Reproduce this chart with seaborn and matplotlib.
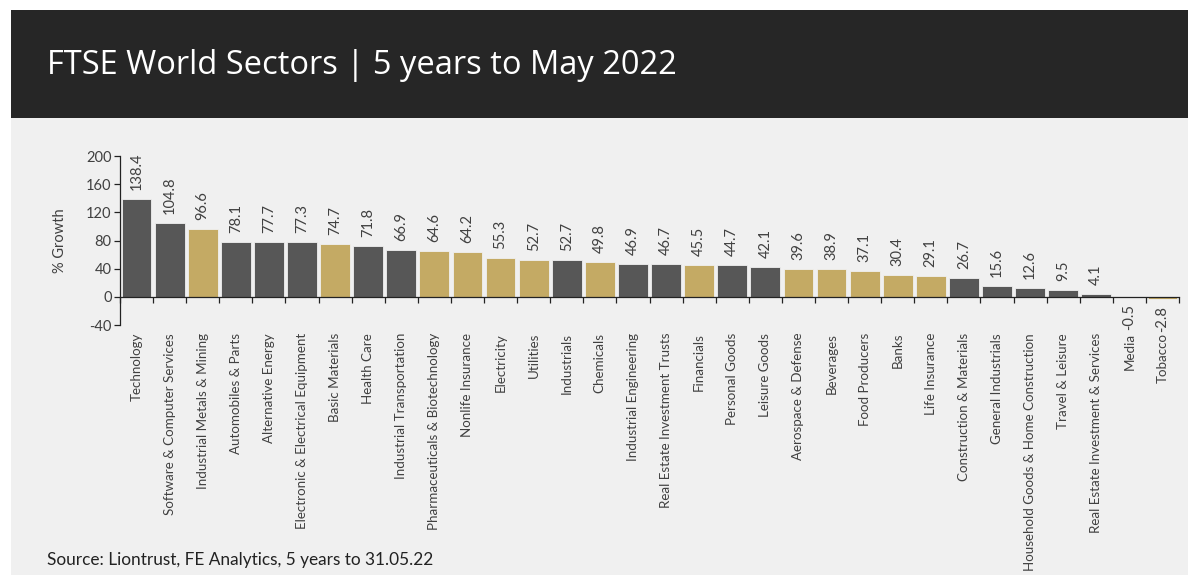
import matplotlib
matplotlib.use("Agg")
import matplotlib.pyplot as plt
from matplotlib.patches import Rectangle
import seaborn as sns
import pandas as pd

sectors = [
    "Technology", "Software & Computer Services", "Industrial Metals & Mining",
    "Automobiles & Parts", "Alternative Energy", "Electronic & Electrical Equipment",
    "Basic Materials", "Health Care", "Industrial Transportation",
    "Pharmaceuticals & Biotechnology", "Nonlife Insurance", "Electricity",
    "Utilities", "Industrials", "Chemicals", "Industrial Engineering",
    "Real Estate Investment Trusts", "Financials", "Personal Goods",
    "Leisure Goods", "Aerospace & Defense", "Beverages", "Food Producers",
    "Banks", "Life Insurance", "Construction & Materials", "General Industrials",
    "Household Goods & Home Construction", "Travel & Leisure",
    "Real Estate Investment & Services", "Media", "Tobacco",
]
growth = [138.4, 104.8, 96.6, 78.1, 77.7, 77.3, 74.7, 71.8, 66.9, 64.6, 64.2,
          55.3, 52.7, 52.7, 49.8, 46.9, 46.7, 45.5, 44.7, 42.1, 39.6, 38.9,
          37.1, 30.4, 29.1, 26.7, 15.6, 12.6, 9.5, 4.1, -0.5, -2.8]
group = ["dark", "dark", "gold", "dark", "dark", "dark", "gold", "dark", "dark",
         "gold", "gold", "gold", "gold", "dark", "gold", "dark", "dark", "gold",
         "dark", "dark", "gold", "gold", "gold", "gold", "gold", "dark", "dark",
         "dark", "dark", "dark", "dark", "gold"]
yticks = [-40, 0, 40, 80, 120, 160, 200]

title = "FTSE World Sectors | 5 years to May 2022"
source = "Source: Liontrust, FE Analytics, 5 years to 31.05.22"

palette = {"dark": "#575757", "gold": "#c4aa64"}
txt_col = "#404040"

df = pd.DataFrame({"sector": sectors, "growth": growth, "group": group})

sns.set_theme(style="white")
plt.rcParams["font.family"] = ["Lato", "DejaVu Sans"]

fig = plt.figure(figsize=(12, 5.81), dpi=100)
fig.patch.set_facecolor("white")
W, H = 1200, 581
# grey panel
fig.patches.append(Rectangle((11 / W, 1 - 575 / H), 1177 / W, 457 / H,
                             transform=fig.transFigure, facecolor="#f0f0f0",
                             edgecolor="none", zorder=-2))
# header
fig.patches.append(Rectangle((11 / W, 1 - 118 / H), 1177 / W, 108 / H,
                             transform=fig.transFigure, facecolor="#262626",
                             edgecolor="none", zorder=-2))
fig.text(47 / W, 1 - 66 / H, title, color="white", fontsize=23.5,
         family=["Open Sans", "DejaVu Sans"], va="center", ha="left")
fig.text(47 / W, 1 - 560 / H, source, color="#222222", fontsize=12.4,
         va="center", ha="left")

ax = fig.add_axes([120 / W, 1 - 325 / H, 1059 / W, 169 / H])
ax.set_facecolor("none")
sns.barplot(data=df, x="sector", y="growth", hue="group", palette=palette,
            dodge=False, width=0.9, legend=False, ax=ax, order=sectors,
            edgecolor="#f0f0f0", linewidth=0.6, saturation=1)

ax.set_ylim(-40, 200)
ax.set_xlim(-0.5, len(sectors) - 0.5)
ax.set_yticks(yticks)
ax.set_yticklabels([str(v) for v in yticks], fontsize=10.5, color=txt_col)
ax.set_ylabel("% Growth", fontsize=10.5, color=txt_col, labelpad=14)
ax.set_xlabel("")

for s in ["top", "right"]:
    ax.spines[s].set_visible(False)
ax.spines["left"].set_color("#222222")
ax.spines["left"].set_linewidth(0.9)
ax.spines["bottom"].set_position(("data", 0))
ax.spines["bottom"].set_color("#222222")
ax.spines["bottom"].set_linewidth(0.9)

ax.tick_params(axis="y", direction="out", length=4, width=0.9, color="#222222",
               left=True, pad=2)
ax.set_xticks(range(len(sectors)))
ax.set_xticklabels(sectors, rotation=90, fontsize=9.6, color=txt_col,
                   ha="center", va="top")
ax.tick_params(axis="x", which="major", length=0, pad=26)
ax.set_xticks([i - 0.5 for i in range(len(sectors) + 1)], minor=True)
ax.tick_params(axis="x", which="minor", direction="out", length=4, width=0.9,
               color="#222222", bottom=True)

for i, v in enumerate(growth):
    if v >= 0:
        ax.annotate(f"{v:.1f}", (i, v), xytext=(0, 6.5), textcoords="offset points",
                    rotation=90, ha="center", va="bottom", fontsize=10.5,
                    color=txt_col)
    else:
        ax.annotate(f"{v:.1f}", (i, v), xytext=(0, -5), textcoords="offset points",
                    rotation=90, ha="center", va="top", fontsize=10.5,
                    color=txt_col)

fig.savefig("out.png", dpi=100)
